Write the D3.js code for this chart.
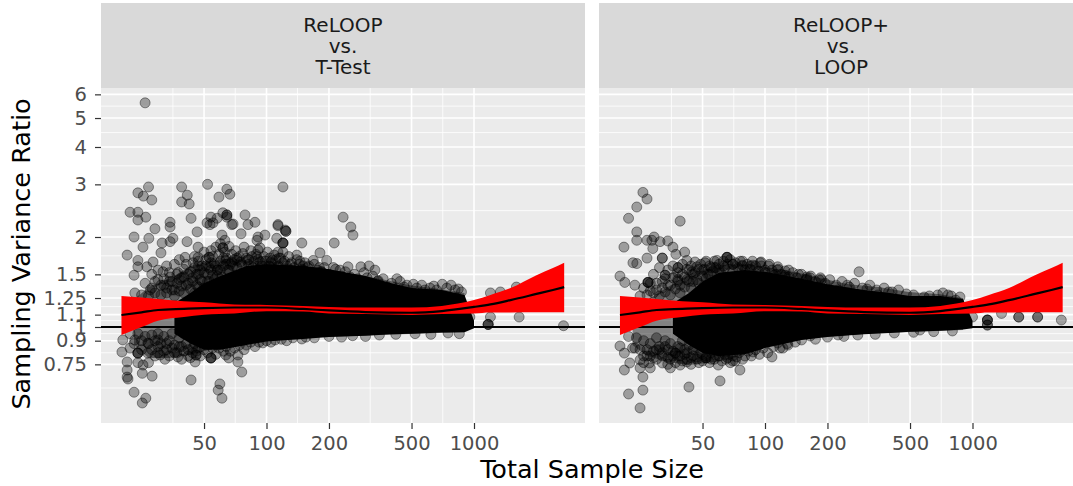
<!DOCTYPE html>
<html><head><meta charset="utf-8">
<script src="https://cdn.jsdelivr.net/npm/d3@7"></script>
<style>html,body{margin:0;padding:0;background:#fff;overflow:hidden}svg{display:block;font-family:"DejaVu Sans",sans-serif}</style>
</head><body><svg id="c" width="1073" height="486"></svg>
<script>
const stripLabels = [["ReLOOP","vs.","T-Test"],["ReLOOP+","vs.","LOOP"]];
const xTicks = [50,100,200,500,1000];
const xMinor = [35.4,70.7,141,316,707];
const yTicks = [6,5,4,3,2,1.5,1.25,1.1,1,0.9,0.75];
const yMinor = [5.48,4.47,3.46,2.45,1.73,1.37,1.17,1.05,0.95,0.82,0.625];

const smoothN  = [20,25,30,40,50,70,100,150,200,300,500,700,1000,1200,1500,2000,2400,2720];
const smoothR  = [1.097,1.12,1.14,1.15,1.157,1.162,1.162,1.149,1.136,1.122,1.116,1.13,1.167,1.19,1.23,1.29,1.33,1.36];
const ribbonHi = [1.27,1.255,1.24,1.22,1.21,1.19,1.185,1.176,1.167,1.162,1.162,1.176,1.23,1.28,1.35,1.49,1.575,1.64];
const ribbonLo = [0.94,1.0,1.05,1.08,1.10,1.11,1.13,1.127,1.11,1.105,1.097,1.105,1.11,1.118,1.118,1.12,1.12,1.12];

const coreN = [36,43,50,60,80,100,150,200,300,400,500,700,900,1000];
const coreHiLeft  = [1.2,1.3,1.4,1.48,1.6,1.62,1.6,1.56,1.48,1.4,1.35,1.33,1.28,1.05];
const coreLoLeft  = [0.95,0.88,0.84,0.84,0.87,0.895,0.912,0.925,0.935,0.945,0.95,0.958,0.96,0.99];
const coreHiRight = [1.2,1.3,1.42,1.52,1.55,1.53,1.45,1.39,1.33,1.3,1.27,1.27,1.24,1.05];
const coreLoRight = [0.95,0.87,0.82,0.8,0.81,0.85,0.905,0.925,0.945,0.955,0.965,0.972,0.98,0.99];

const haloN = [23,27,34,43,53,67,83,104,145,181,253,352,492,684,900];
const haloHiLeft  = [1.23,1.36,1.45,1.6,1.66,1.7,1.66,1.66,1.6,1.58,1.5,1.45,1.38,1.34,1.3];
const haloLoLeft  = [0.87,0.788,0.788,0.806,0.84,0.857,0.884,0.905,0.918,0.925,0.933,0.94,0.947,0.955,0.962];
const haloHiRight = [1.14,1.23,1.36,1.5,1.58,1.62,1.62,1.58,1.52,1.46,1.39,1.36,1.31,1.29,1.25];
const haloLoRight = [0.87,0.80,0.764,0.746,0.76,0.776,0.825,0.87,0.905,0.925,0.94,0.955,0.962,0.97,0.977];

const pointsLeft = [
[26,5.62],[27,2.94],[24,2.81],[25.5,2.74],[28,2.66],[22,2.42],[24,2.42],[24,2.28],[26.2,2.33],[29,2.13],[23,2.0],
[39,2.94],[41.5,2.76],[39,2.62],[42.4,2.58],[52,3.0],[59,2.72],[64.4,2.89],[66.6,2.78],[43.3,2.31],[34.3,2.24],[34.3,2.16],
[54,2.33],[64.4,2.37],[64.4,2.37],[64.4,2.33],[78.8,2.37],[88,2.24],[81.4,2.2],[68,2.2],[75.4,2.05],[120,2.94],[113.6,2.18],[124,2.09],
[148,1.91],[212,1.91],[234,2.33],[255,2.16],[261,2.03],[27.1,1.98],[25.4,1.85],[31.4,1.91],[34.3,1.93],[35.4,1.98],[41.4,1.93],[46.3,2.08],[46.8,1.85],
[21.3,1.74],[31,1.77],[24,1.67],[24,1.59],[26.5,1.59],[28.4,1.65],[40.5,1.71],[44.3,1.64],[52.9,1.71],[52.9,1.71],[46.8,1.71],
[23,1.49],[31.7,1.53],[34.3,1.47],[37.4,1.52],[27.5,1.33],[23.2,1.30],
[53.4,2.2],[55.2,2.23],[57.8,2.31],[51.7,2.23],[61.6,2.41],[69,2.21],[61,2.03],[63,1.95],[61.6,1.84],[61.6,1.84],
[98.3,2.03],[91,2.0],[90,1.95],[91,1.81],[113.6,2.2],[124,2.09],[112,1.98],[120,1.91],[120,1.91],[120,1.91],[113.6,1.78],[93,1.65],[107,1.67],[120,1.64],
[80.6,1.67],[72,1.67],[63.7,1.67],[54,1.64],[47,1.6],[58,1.55],[69,1.6],[86,1.58],[103,1.6],[130,1.55],
[123,2.11],[140,1.74],[181,1.77],[168,1.67],[195,1.67],[184,1.53],[184,1.53],[226,1.55],[247,1.59],[285,1.59],[312,1.6],[333,1.55],[158,1.49],[425,1.45],[510,1.39],[613,1.35],[703,1.39],[775,1.38],[870,1.31],[580,1.33],[382,1.36],[475,1.38],[343,1.42],[253,1.47],[150,1.6],[210,1.58],[150,1.55],
[148,0.912],[134,0.92],[1200,1.3],[1200,1.08],[1170,1.02],[1170,1.02],[1170,1.02],[1600,1.36],[1650,1.08],[2700,1.01],[955,1.08],[1340,1.31],
[20.3,0.905],[20.1,0.825],[21.3,0.764],[21.3,0.718],[21.5,0.67],[21.3,0.68],[23,0.605],[26.2,0.578],[25.2,0.557],[28.1,0.685],[25.2,0.70],[25.4,0.746],
[23.2,0.905],[24,0.818],[24,0.818],[24,0.818],[26.8,0.884],[26.8,0.818],[30,0.905],[30.7,0.806],[32.4,0.78],[37.4,0.794],[43,0.79],[45.8,0.806],[45.8,0.806],[45.3,0.764],
[54,0.788],[54,0.788],[54,0.788],[63.7,0.806],[65.8,0.788],[72.8,0.806],[72.8,0.764],[76,0.707],[43.3,0.665],[59.6,0.645],[58.5,0.615],[61,0.578],[24,0.76],[27,0.76],[29,0.8],[22,0.85]
];
const cloudEdgeLeft = [
[28,1.5],[29,1.42],[30,1.55],[31,1.38],[32,1.45],[33,1.6],[33,1.35],[34,1.52],[35,1.42],[36,1.62],[36,1.33],[37,1.5],[38,1.44],[38,1.68],[39,1.37],[40,1.56],[40,1.47],[41,1.62],[42,1.4],[43,1.53],[44,1.46],[45,1.72],[45,1.58],[46,1.38],[47,1.66],[47,1.5],[48,1.44],[49,1.6],[50,1.78],[50,1.52],[51,1.68],[52,1.42],[53,1.58],[54,1.8],[55,1.72],[55,1.49],[56,1.63],[57,1.85],[58,1.55],[59,1.75],[60,1.66],[60,1.9],[61,1.47],[62,1.6],[63,1.78],[64,1.7],[65,1.55],[66,1.86],[67,1.62],[68,1.75],[70,1.68],[71,1.8],[72,1.58],[74,1.72],[75,1.65],[77,1.76],[78,1.85],[80,1.7],[82,1.62],[84,1.8],[85,1.72],[87,1.66],[89,1.75],[91,1.68],[93,1.84],[95,1.6],[97,1.72],[99,1.66],[101,1.78],[104,1.7],[106,1.63],[109,1.74],[111,1.68],[114,1.6],[117,1.7],[120,1.78],[122,1.66],[125,1.6],[128,1.72],[132,1.64],[136,1.58],[140,1.68],[144,1.62],[148,1.56],[153,1.64],[158,1.58],[163,1.52],[170,1.62],[176,1.55],[190,1.58],[200,1.5],[215,1.56],[230,1.48],[240,1.53],[265,1.5],[275,1.45],[295,1.52],[305,1.46],[325,1.48],[345,1.43],[365,1.45],[400,1.4],[440,1.42],[460,1.36],[530,1.35],[560,1.38],[640,1.37],[660,1.33],[740,1.35],[810,1.33],[840,1.34],
[30,0.86],[32,0.83],[33,0.88],[34,0.8],[35,0.85],[36,0.82],[38,0.86],[39,0.78],[40,0.83],[42,0.8],[44,0.85],[46,0.83],[48,0.8],[50,0.84],[52,0.82],[55,0.85],[57,0.81],[59,0.85],[62,0.83],[64,0.86],[67,0.83],[70,0.85],[74,0.87],[78,0.84],[80,0.87],[84,0.89],[88,0.86],[92,0.89],[96,0.885],[100,0.9],[105,0.89],[110,0.905],[118,0.91],[125,0.9],[155,0.925],[170,0.92],[200,0.93],[230,0.925],[260,0.935],[300,0.93],[350,0.94],[420,0.945],[520,0.95],[620,0.945],[750,0.955],[850,0.95]
];
const cloudInnerLeft = [
[25,1.28],[26,1.4],[27,1.27],[28,1.35],[29,1.3],[30,1.44],[31,1.28],[32,1.38],[33,1.3],[34,1.42],[35,1.33],[36,1.27],[37,1.4],[38,1.32],[39,1.46],[40,1.3],[41,1.38],[42,1.5],[43,1.34],[44,1.42],[45,1.3],[46,1.5],[47,1.36],[48,1.55],[49,1.42],[50,1.35],[51,1.6],[52,1.5],[53,1.42],[54,1.55],[56,1.44],[57,1.6],[58,1.48],[60,1.55],[62,1.7],[64,1.62],[66,1.55],[68,1.65],[72,1.7],[76,1.62],[82,1.68],[90,1.72],[95,1.66],[105,1.65],[115,1.7],[130,1.62],[145,1.66],[160,1.6],[180,1.58],
[22,0.95],[23,0.88],[24,0.95],[25,0.9],[25,0.84],[26,0.93],[27,0.88],[28,0.94],[28,0.84],[29,0.9],[30,0.95],[30,0.82],[31,0.88],[32,0.93],[33,0.84],[34,0.9],[35,0.95],[36,0.87],[37,0.82],[38,0.92],[39,0.86],[40,0.95],[41,0.88],[42,0.84],[43,0.93],[44,0.82],[45,0.88],[46,0.92],[47,0.85],[48,0.9]
];

const pointsRight = [
[25.8,2.82],[27,2.68],[24.1,2.52],[22,2.31],[39,2.26],[24.1,2.08],[24.1,1.95],[27,1.95],[28.5,1.95],[29.2,2.0],[31.2,1.93],[34,1.94],[36,1.85],[20.9,1.85],[28.8,1.83],[37.2,1.75],[41,1.78],[27,1.70],[32,1.70],[32,1.70],[23.1,1.64],[24.1,1.63],
[20,1.48],[21.1,1.41],[23.6,1.38],[27.3,1.41],[27.3,1.41],[27.3,1.41],[33,1.49],[33,1.49],[38.1,1.58],[38.1,1.58],[42,1.67],[51.4,1.64],[58.7,1.67],[65.6,1.71],[65.6,1.71],[65.6,1.71],[78,1.61],[87.5,1.61],[95.7,1.65],[115,1.59],[125,1.47],[110,1.49],[47,1.59],[44.5,1.53],[38,1.44],
[159,1.45],[182,1.44],[284,1.53],[125,1.49],[159,1.47],[187,1.44],[249,1.38],[310,1.34],[394,1.31],[585,1.26],[762,1.28],[830,1.23],[350,1.28],[225,1.33],[70,1.62],[55,1.58],[100,1.55],
[225,0.94],[165,0.933],[129,0.87],[558,0.977],
[1180,1.055],[1180,1.055],[1180,1.055],[1180,1.015],[1180,1.015],[1380,1.11],[1670,1.08],[1670,1.08],[2060,1.08],[2060,1.08],[2680,1.055],[1000,1.08],
[20,0.864],[21,0.818],[22.3,0.758],[21,0.718],[25,0.776],[25,0.73],[27.7,0.758],[28,0.73],[32,0.758],[35,0.73],[39,0.746],[42,0.764],[25.8,0.68],[25.8,0.615],[22,0.597],[25,0.536],[43,0.63],[60.7,0.66],[75.7,0.718],[59.5,0.746],[108,0.794],[87.5,0.825],[73,0.794],[91.5,0.89],[122,0.85],[115,0.884],
[47,0.794],[52,0.788],[52,0.788],[65.6,0.825],[58,0.806],[37,0.818],[37,0.818],[31,0.84],[27,0.84],[23.6,0.85],[29,0.79],[34,0.79],[41,0.81],[26,0.8]
];
const cloudEdgeRight = [
[28,1.32],[29,1.5],[30,1.4],[31,1.58],[32,1.35],[33,1.45],[34,1.55],[35,1.38],[36,1.6],[37,1.47],[38,1.52],[39,1.38],[40,1.62],[41,1.47],[42,1.56],[43,1.42],[44,1.6],[45,1.5],[46,1.65],[47,1.44],[48,1.56],[49,1.62],[50,1.48],[51,1.56],[52,1.66],[53,1.5],[54,1.6],[56,1.54],[57,1.66],[58,1.58],[60,1.62],[61,1.52],[63,1.66],[64,1.58],[66,1.62],[68,1.68],[70,1.55],[72,1.64],[74,1.58],[76,1.66],[78,1.6],[80,1.55],[82,1.62],[85,1.56],[87,1.66],[90,1.6],[93,1.54],[96,1.6],[100,1.52],[104,1.6],[108,1.55],[112,1.5],[116,1.56],[120,1.5],[125,1.54],[130,1.47],[136,1.52],[142,1.46],[150,1.5],[158,1.44],[166,1.48],[175,1.42],[185,1.46],[195,1.4],[205,1.44],[220,1.38],[235,1.42],[255,1.36],[270,1.4],[295,1.35],[320,1.38],[345,1.33],[375,1.35],[410,1.31],[440,1.33],[480,1.29],[520,1.28],[620,1.27],[680,1.28],[720,1.3],[790,1.27],[870,1.26],
[28,0.8],[30,0.84],[32,0.8],[33,0.86],[35,0.78],[36,0.83],[38,0.8],[39,0.85],[40,0.77],[42,0.82],[44,0.79],[45,0.84],[47,0.78],[49,0.82],[50,0.77],[52,0.8],[54,0.76],[55,0.82],[57,0.78],[60,0.8],[62,0.77],[64,0.81],[66,0.79],[68,0.76],[70,0.8],[72,0.77],[75,0.82],[78,0.78],[80,0.8],[83,0.83],[86,0.8],[90,0.84],[94,0.81],[98,0.85],[103,0.82],[110,0.86],[118,0.85],[128,0.88],[140,0.89],[150,0.905],[175,0.91],[200,0.925],[240,0.93],[280,0.94],[340,0.945],[420,0.955],[520,0.96],[650,0.965],[800,0.97]
];
const cloudInnerRight = [
[25,1.27],[26,1.35],[27,1.28],[28,1.4],[29,1.3],[30,1.33],[31,1.27],[32,1.42],[33,1.31],[34,1.38],[35,1.28],[36,1.46],[37,1.34],[38,1.42],[39,1.3],[40,1.5],[41,1.36],[42,1.44],[43,1.55],[44,1.35],[45,1.42],[46,1.52],[48,1.4],[50,1.55],[52,1.45],[54,1.5],[57,1.58],[60,1.55],[63,1.6],[70,1.62],[78,1.66],[85,1.6],[95,1.64],[105,1.62],[115,1.55],[130,1.55],[145,1.5],[165,1.46],
[22,0.93],[23,0.85],[24,0.92],[25,0.84],[26,0.9],[26,0.76],[27,0.8],[28,0.88],[29,0.83],[30,0.92],[30,0.78],[31,0.86],[32,0.82],[33,0.9],[34,0.84],[34,0.75],[35,0.88],[36,0.8],[37,0.76],[38,0.86],[39,0.8],[40,0.9],[41,0.84],[42,0.78],[43,0.87],[44,0.75],[45,0.8],[46,0.86],[48,0.76],[50,0.81],[55,0.78],[60,0.83],[65,0.78],[70,0.77]
];

const panels = [
 {x0:101, dx:0,     strip:stripLabels[0], pts:pointsLeft.concat(cloudEdgeLeft,cloudInnerLeft),    coreHi:coreHiLeft,  coreLo:coreLoLeft,  haloHi:haloHiLeft,  haloLo:haloLoLeft,  yAxis:true},
 {x0:599, dx:498.5, strip:stripLabels[1], pts:pointsRight.concat(cloudEdgeRight,cloudInnerRight), coreHi:coreHiRight, coreLo:coreLoRight, haloHi:haloHiRight, haloLo:haloLoRight, yAxis:false}
];
const W = 484, yTop = 88, yBottom = 423;
const svg = d3.select("#c");
const defs = svg.append("defs");

panels.forEach((p,i) => {
  const x = d3.scaleLog().domain([100,1000]).range([266.5+p.dx, 474+p.dx]);
  const y = d3.scaleLog().domain([1,2]).range([327,237]);
  defs.append("clipPath").attr("id","clip"+i).append("rect").attr("x",p.x0).attr("y",yTop).attr("width",W).attr("height",yBottom-yTop);

  svg.append("rect").attr("x",p.x0).attr("y",3).attr("width",W).attr("height",yTop-3).attr("fill","#d9d9d9");
  const st = svg.append("text").attr("text-anchor","middle").attr("font-size",20).attr("fill","#1a1a1a");
  p.strip.forEach((s,k)=> st.append("tspan").attr("x",p.x0+W/2).attr("y",32+k*21).text(s));

  svg.append("rect").attr("x",p.x0).attr("y",yTop).attr("width",W).attr("height",yBottom-yTop).attr("fill","#ebebeb");
  const g = svg.append("g").attr("clip-path",`url(#clip${i})`);
  const hLine = (v,w)=> g.append("line").attr("x1",p.x0).attr("x2",p.x0+W).attr("y1",y(v)).attr("y2",y(v)).attr("stroke","#fff").attr("stroke-width",w);
  const vLine = (v,w)=> g.append("line").attr("y1",yTop).attr("y2",yBottom).attr("x1",x(v)).attr("x2",x(v)).attr("stroke","#fff").attr("stroke-width",w);
  yMinor.forEach(v=>hLine(v,0.8)); xMinor.forEach(v=>vLine(v,0.8));
  yTicks.forEach(v=>hLine(v,1.6)); xTicks.forEach(v=>vLine(v,1.6));

  const band = (ns,hi,lo,curve)=> d3.area().x((d,k)=>x(ns[k])).y0((d,k)=>y(lo[k])).y1((d,k)=>y(hi[k])).curve(curve)(ns);
  g.append("path").attr("d",band(haloN,p.haloHi,p.haloLo,d3.curveLinear)).attr("fill","#000").attr("opacity",0.45);
  g.append("path").attr("d",band(coreN,p.coreHi,p.coreLo,d3.curveLinear)).attr("fill","#000");

  g.selectAll("circle").data(p.pts).join("circle")
    .attr("cx",d=>x(d[0])).attr("cy",d=>y(d[1])).attr("r",5)
    .attr("fill","#000").attr("fill-opacity",0.33).attr("stroke","#000").attr("stroke-opacity",0.4).attr("stroke-width",1);

  g.append("line").attr("x1",p.x0).attr("x2",p.x0+W).attr("y1",y(1)).attr("y2",y(1)).attr("stroke","#000").attr("stroke-width",2);
  g.append("path").attr("d",band(smoothN,ribbonHi,ribbonLo,d3.curveMonotoneX)).attr("fill","#ff0000");
  g.append("path").attr("d",d3.line().x((d,k)=>x(smoothN[k])).y((d,k)=>y(smoothR[k])).curve(d3.curveMonotoneX)(smoothN))
    .attr("fill","none").attr("stroke","#000").attr("stroke-width",2.2);

  const ax = svg.append("g").attr("transform",`translate(0,${yBottom})`)
    .call(d3.axisBottom(x).tickValues(xTicks).tickFormat(d3.format("d")).tickSize(6).tickPadding(7));
  ax.select(".domain").remove();
  ax.selectAll("line").attr("stroke","#333").attr("stroke-width",1.2);
  ax.selectAll("text").attr("fill","#4d4d4d").attr("font-size",19.5).attr("font-family",'"DejaVu Sans",sans-serif');

  if (p.yAxis) {
    const ay = svg.append("g").attr("transform",`translate(${p.x0},0)`)
      .call(d3.axisLeft(y).tickValues(yTicks).tickFormat(d=>String(d)).tickSize(6).tickPadding(8));
    ay.select(".domain").remove();
    ay.selectAll("line").attr("stroke","#333").attr("stroke-width",1.2);
    ay.selectAll("text").attr("fill","#4d4d4d").attr("font-size",19.5).attr("font-family",'"DejaVu Sans",sans-serif');
  }
});

svg.append("text").attr("x",592).attr("y",478).attr("text-anchor","middle").attr("font-size",25.5).attr("fill","#000").text("Total Sample Size");
svg.append("text").attr("transform","translate(30,254) rotate(-90)").attr("text-anchor","middle").attr("font-size",25.5).attr("fill","#000").text("Sampling Variance Ratio");
</script></body></html>
